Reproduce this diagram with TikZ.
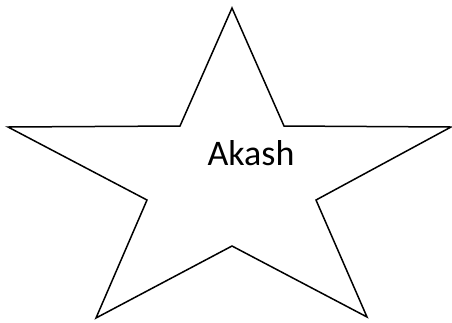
\documentclass[tikz,border=0pt]{standalone}
\usepackage{fontspec}
\setmainfont{Carlito}
\begin{document}
\begin{tikzpicture}[x=1pt,y=-1pt,
  starline/.style={draw=black,line width=1.5pt,line join=miter,fill=white},
  label/.style={font=\fontsize{36}{40}\selectfont,inner sep=0pt,anchor=base}]
\useasboundingbox (0,0) rectangle (452,322);
\draw[starline] (232,8) -- (284,126) -- (451,127) -- (316,200) -- (367,317)
  -- (232,246) -- (96,318) -- (147,200) -- (8,127) -- (180,126) -- cycle;
\node[label] (t) at (251,165) {Akash};
\end{tikzpicture}
\end{document}
